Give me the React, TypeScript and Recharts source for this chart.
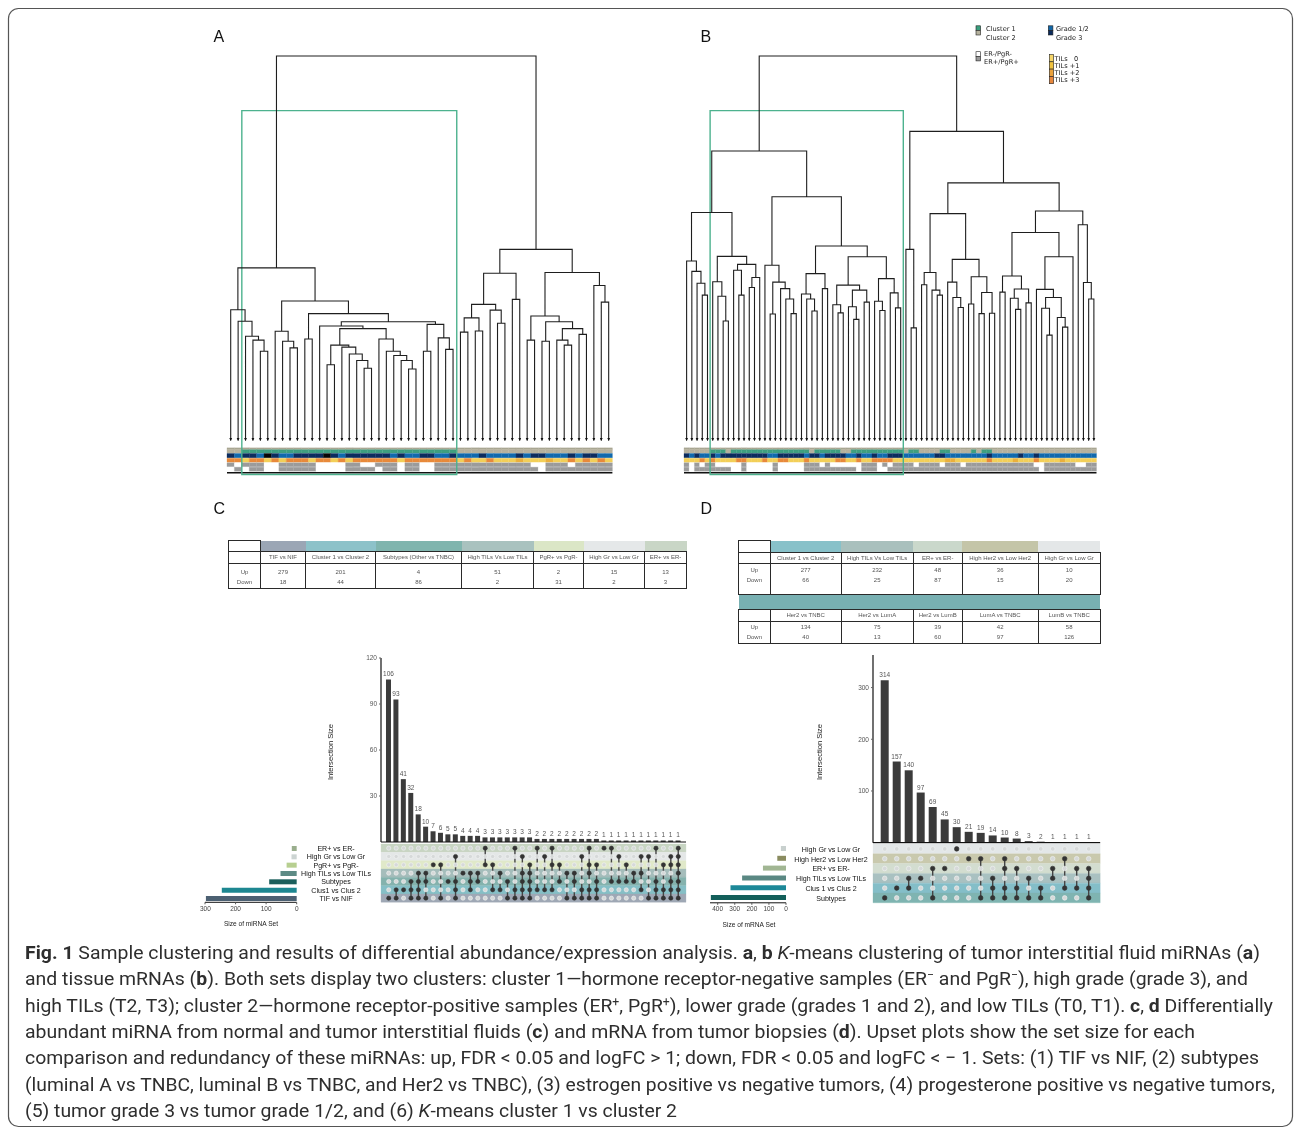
import React from "react";
import {
  ComposedChart,
  Line,
  Scatter,
  XAxis,
  YAxis,
  ReferenceArea,
  BarChart,
  Bar,
  Cell,
  LabelList,
} from "recharts";

const FONT = "'Liberation Sans', Arial, Helvetica, sans-serif";
const LEGEND_FONT = "'DejaVu Sans', Verdana, sans-serif";
const CAPTION_FONT = "'Liberation Sans Narrow', Roboto, 'Liberation Sans', sans-serif";

// ---------- dendrogram A: TIF miRNA, 52 samples (leaf = 0, node = [left, right, height]) ----------
const L = 0;
const treeA_c1 = [L, [L, [L, [L, [L, L, 23.2], 26.1], 27.1], 31.0], 34.0];
const treeA_c2a = [L, [L, [L, L, 24.1], 25.8], 28.4];
const treeA_n16 = [L, [L, [L, [L, L, 18.8], 20.8], 22.5], 24.3];
const treeA_n21 = [L, [L, [L, [L, [L, L, 18.6], 20.8], 22.1], 23.2], 26.4];
const treeA_n834 = [[[L, L, 19.7], treeA_n16, 24.8], treeA_n21, 29.1];
const treeA_n822 = [[L, L, 23.2], [L, [L, L, 23.7], 26.7], 30.2];
const treeA_c2b = [[L, L, 26.4], [[L, treeA_n834, 29.8], treeA_n822, 30.9], 33.0];
const treeA_left = [treeA_c1, [treeA_c2a, treeA_c2b, 36.3], 44.9];
const treeA_r1 = [[[[L, L, 28.2], [L, L, 28.5], 31.9], [L, [L, L, 30.5], 33.9], 35.4], [L, L, 36.7], 43.5];
const treeA_r2a = [[L, L, 26.1], [[L, L, 25.8], [[L, [L, L, 24.8], 26.1], [L, L, 27.6], 29.1], 30.9], 32.4];
const treeA_right = [treeA_r1, [treeA_r2a, [L, [L, L, 36.0], 40.3], 43.7], 49.7];
const treeA = [treeA_left, treeA_right, 100];

// ---------- dendrogram B: tissue mRNA, 79 samples ----------
const treeB_l1 = [L, [L, [L, [L, L, 37.8], 40.9], 44.0], 46.7];
const treeB_l2 = [L, [L, [L, L, 31.1], 37.5], 41.3];
const treeB_l3 = [[L, [L, L, 37.8], 44.3], [[L, L, 39.8], L, 42.4], 45.8];
const treeB_lA = [treeB_l1, [treeB_l2, treeB_l3, 47.9], 59.3];
const treeB_l5 = [L, [[L, L, 32.9], [L, [L, [L, L, 33.0], 36.8], 39.5], 41.2], 45.6];
const treeB_l6 = [[L, [L, [L, L, 33.7], 36.8], 38.1], [L, L, 39.5], 43.4];
const treeB_l7 = [
  [[L, [L, L, 33.2], 35.3], [[L, [L, L, 31.5], 34.8], [L, L, 36.0], 39.1], 40.4],
  [[L, [L, L, 33.8], 36.2], [L, [L, L, 34.5], 38.4], 42.1],
  47.8,
];
const treeB_lC = [treeB_l5, [treeB_l6, treeB_l7, 50.6], 63.4];
const treeB_r2 = [[L, L, 40.5], [L, [L, L, 37.8], 39.1], 43.7];
const treeB_r3 = [L, [L, [L, L, 34.6], 37.2], 41.2];
const treeB_r4 = [[L, L, 35.5], [[L, L, 33.0], [L, L, 33.1], 38.5], 42.6];
const treeB_r6 = [treeB_r2, [treeB_r3, treeB_r4, 47.1], 59.0];
const treeB_r7 = [[L, L, 38.6], [[L, [L, L, 34.1], 37.0], [L, L, 35.8], 39.4], 42.8];
const treeB_r8 = [L, [[L, [L, L, 27.4], 34.4], [L, [L, L, 29.5], 32.0], 37.2], 39.3];
const treeB_r10 = [treeB_r7, [treeB_r8, L, 47.8], 54.1];
const treeB_r11 = [L, [L, [L, L, 36.8], 41.1], 56.1];
const treeB_right = [[L, [L, L, 29.3], 49.7], [treeB_r6, [treeB_r10, treeB_r11, 59.7], 67.0], 80.4];
const treeB = [[treeB_lA, treeB_lC, 75.3], treeB_right, 100];

// ---------- annotation rows under the dendrograms (run-length codes) ----------
const clusterA = "b2 g29 b21";
const gradeA = "N1 B1 N2 B1 K1 N1 B2 N4 K1 N1 B1 N6 B1 N1 B2 N2 B2 N1 B3 N1 B4 N1 B1 N2 B3 N1 B1 N2 B2";
const tilsA = "O2 Y1 O2 Y1 O1 Y1 O3 Y1 O2 Y1 O1 Y1 O6 Y1 O7 Y1 O1 Y2 O1 Y3 G1 Y3 G1 Y2 O1 Y1 O1 Y1 O1 Y1";
const erA = "R1 W1 R3 W2 R5 W4 R2 W2 R3 W1 R2 W2 R13 W2 R3 W1 R5";
const pgrA = "W1 R1 W1 R2 W2 R5 W4 R4 W1 R2 W1 R2 W2 R14 W1 R9";

const clusterB = "b5 g3 b1 g15 b1 g5 b2 g10 b1 g2 b4 g2 b4 g1 b1 g2 b20";
const gradeB = "N1 B1 N1 B2 N1 B1 N9 B2 N5 B1 N2 B1 N4 B2 N1 B2 N1 B2 N3 B6 N2 B8 N1 B5 N1 B2 N1 B11";
const tilsB = "Y3 O1 Y1 O1 Y4 O2 Y3 O1 Y2 O2 Y3 O1 Y5 O2 Y2 O1 Y2 O4 Y10 G2 Y6 O1 Y4 G1 Y3 O1 Y4 G1 Y6";
const erB = "R1 W1 R1 W1 R2 W5 R1 W5 R1 W5 R3 W1 R1 W6 R3 W1 R1 W1 R4 W1 R4 W1 R3 W1 R13 W2 R6 W2 R2";
const pgrB = "R1 W1 R7 W2 R1 W5 R1 W5 R10 W1 R3 W2 R29 W1 R10";

const CELL_COLORS: Record<string, string> = {
  t: "#a9a693",
  b: "#b6b29e",
  g: "#3f9f80",
  N: "#0c2c5e",
  B: "#1169ad",
  K: "#060606",
  Y: "#f3cf58",
  G: "#ebb03c",
  O: "#e88a3b",
  W: "#ffffff",
  R: "#9b9b9b",
};

const ROW_BANDS = [
  { key: "top", y1: -1.9, y2: -2.39 },
  { key: "cluster", y1: -2.39, y2: -3.3 },
  { key: "grade", y1: -3.38, y2: -4.5 },
  { key: "tils", y1: -4.63, y2: -5.64 },
  { key: "er", y1: -5.8, y2: -6.81 },
  { key: "pgr", y1: -6.94, y2: -7.98 },
];

// ---------- tables ----------
const tableC_heads = ["TIF vs NIF", "Cluster 1 vs Cluster 2", "Subtypes (Other vs TNBC)", "High TILs Vs Low TILs", "PgR+ vs PgR-", "High Gr vs Low Gr", "ER+ vs ER-"];
const tableC_up = [279, 201, 4, 51, 2, 15, 13];
const tableC_down = [18, 44, 86, 2, 31, 2, 3];
const tableC_colors = ["#9ba6b5", "#8dc2c9", "#80b5ae", "#a9c2bf", "#dbe6c6", "#e5e8e9", "#c9d6c6"];

const tableD1_heads = ["Cluster 1 vs Cluster 2", "High TILs Vs Low TILs", "ER+ vs ER-", "High Her2 vs Low Her2", "High Gr vs Low Gr"];
const tableD1_up = [277, 232, 48, 36, 10];
const tableD1_down = [66, 25, 87, 15, 20];
const tableD1_colors = ["#88c1c9", "#a9c0bd", "#cad8cb", "#c4c5a8", "#e4e7e8"];
const tableD2_heads = ["Her2 vs TNBC", "Her2 vs LumA", "Her2 vs LumB", "LumA vs TNBC", "LumB vs TNBC"];
const tableD2_up = [134, 75, 39, 42, 58];
const tableD2_down = [40, 13, 60, 97, 126];

// ---------- upset C (miRNA) ----------
const upsetC_sets = ["ER+ vs ER-", "High Gr vs Low Gr", "PgR+ vs PgR-", "High TILs vs Low TILs", "Subtypes", "Clus1 vs Clus 2", "TIF vs NIF"];
const upsetC_setSizes = [16, 17, 33, 53, 90, 245, 297];
const upsetC_setColors = ["#9aae8d", "#ccd4d2", "#b7cf90", "#5d8b85", "#1b5f5c", "#1d8791", "#4c6072"];
const upsetC_bandColors = ["#c8d5c3", "#e4e7e7", "#e0e9c9", "#a5bdbb", "#84b2ad", "#86bfc6", "#9fa8b5"];
const upsetC_counts = [106, 93, 41, 32, 18, 10, 7, 6, 5, 5, 4, 4, 4, 3, 3, 3, 3, 3, 3, 3, 2, 2, 2, 2, 2, 2, 2, 2, 2, 1, 1, 1, 1, 1, 1, 1, 1, 1, 1, 1];
const upsetC_combos = [
  [6], [5, 6], [5], [4, 5, 6], [3, 4, 5, 6], [3, 4, 6], [2], [2, 6], [4], [1, 4, 5, 6],
  [3], [3, 4, 5], [3, 4], [0, 2], [2, 5], [3, 5], [4, 6], [0, 5, 6], [1, 3, 4, 5, 6], [2, 3, 4, 5, 6],
  [0, 5], [1, 5], [0, 2, 5], [2, 4], [3, 6], [3, 4, 6], [1, 5, 6], [0, 2, 3, 5, 6], [2, 4, 5, 6], [0],
  [0, 4], [1, 4], [2, 4], [3, 4], [1, 3, 5], [1, 6], [0, 4, 5, 6], [2, 5, 6], [1, 2, 4, 5, 6], [0, 1, 2, 3, 4, 5, 6],
];

// ---------- upset D (mRNA) ----------
const upsetD_sets = ["High Gr vs Low Gr", "High Her2 vs Low Her2", "ER+ vs ER-", "High TILs vs Low TILs", "Clus 1 vs Clus 2", "Subtypes"];
const upsetD_setSizes = [30, 51, 135, 257, 325, 440];
const upsetD_setColors = ["#c8d0ce", "#8a8c60", "#a1b693", "#5a8883", "#1d8898", "#135f5a"];
const upsetD_bandColors = ["#e3e7e8", "#c9c9ad", "#d3ddd0", "#a9c1c1", "#84bec8", "#7fb4b1"];
const upsetD_counts = [314, 157, 140, 97, 69, 45, 30, 21, 19, 14, 10, 8, 3, 2, 1, 1, 1, 1];
const upsetD_combos = [
  [5], [4], [3, 4], [3], [2, 5], [2], [0], [1], [1, 5], [3, 4, 5],
  [1, 2, 4, 5], [2, 4, 5], [3, 5], [4, 5], [2, 3], [1, 4], [2, 4], [2, 3, 4, 5],
];

const GEO_C = {
  axisLeft: 381, axisRight: 686, colStart: 388.7, colStep: 7.425, barTop: 658, barBase: 842,
  yMax: 120, yTicks: [0, 30, 60, 90, 120], barSize: 5, rowTop: 844.2, rowH: 8.33,
  setLeft: 205, setRight: 296.7, setMax: 300, setTicks: [0, 100, 200, 300],
  labelX: 336, titleX: 251, titleY: 926, ylabX: 332.5, ylabY: 752, dotR: 2.4, title: "Size of miRNA Set",
};
const GEO_D = {
  axisLeft: 873.3, axisRight: 1100.5, colStart: 885, colStep: 12, barTop: 655, barBase: 842.7,
  yMax: 363, yTicks: [0, 100, 200, 300], barSize: 8, rowTop: 844.4, rowH: 9.8,
  setLeft: 710, setRight: 786, setMax: 445, setTicks: [0, 100, 200, 300, 400],
  labelX: 831, titleX: 749, titleY: 927, ylabX: 822, ylabY: 752, dotR: 2.6, title: "Size of mRNA Set",
};

// layers with transparent background keep small text in grayscale antialiasing
const LAYER: React.CSSProperties = { position: "absolute", willChange: "transform" };

// ---------- helpers ----------
const rle = (s: string): string[] =>
  s.trim().split(/\s+/).flatMap((t) => Array(parseInt(t.slice(1), 10)).fill(t[0]));

function layoutTree(tree: any) {
  const segs: { x: number; y: number | null }[] = [];
  const leaves: { x: number; y: number }[] = [];
  let k = 0;
  const walk = (node: any): { x: number; h: number } => {
    if (node === 0) {
      const x = k++;
      leaves.push({ x, y: 0 });
      return { x, h: 0 };
    }
    const a = walk(node[0]);
    const b = walk(node[1]);
    const h = node[2];
    segs.push({ x: a.x, y: a.h }, { x: a.x, y: h }, { x: b.x, y: h }, { x: b.x, y: b.h }, { x: b.x, y: null });
    return { x: (a.x + b.x) / 2, h };
  };
  walk(tree);
  return { segs, leaves, n: k };
}

const Arrow = (props: any) => {
  const { cx, cy } = props;
  return <path d={`M${cx - 1.4},${cy - 2.6} L${cx + 1.4},${cy - 2.6} L${cx},${cy + 0.6} Z`} fill="#111" />;
};

function Dendrogram({ tree, codes, box, left, width }: any) {
  const { segs, leaves, n } = layoutTree(tree);
  const m = 6;
  const top = 55.5;
  const plotH = 475.4 - 55.5;
  const cells: any[] = [];
  ROW_BANDS.forEach((band) => {
    const seq = band.key === "top" ? Array(n).fill("t") : rle(codes[band.key]);
    seq.forEach((c: string, i: number) => {
      cells.push(
        <ReferenceArea
          key={band.key + i}
          x1={i - 0.5}
          x2={i + 0.5}
          y1={band.y1}
          y2={band.y2}
          fill={CELL_COLORS[c]}
          fillOpacity={1}
          stroke={CELL_COLORS[c]}
          strokeWidth={0.3}
        />
      );
    });
  });
  return (
    <div style={{ ...LAYER, left: left - m, top: top - m }}>
      <ComposedChart width={width + 2 * m} height={plotH + 2 * m} margin={{ top: m, right: m, bottom: m, left: m }}>
        <XAxis type="number" dataKey="x" domain={[-0.5, n - 0.5]} hide />
        <YAxis type="number" dataKey="y" domain={[-9.2, 100]} hide />
        {cells}
        <ReferenceArea x1={-0.5} x2={n - 0.5} y1={-8.22} y2={-8.56} fill="#111" fillOpacity={1} stroke="none" />
        <Line data={segs} dataKey="y" stroke="#1e1e1e" strokeWidth={1.1} dot={false} connectNulls={false} isAnimationActive={false} />
        <Scatter data={leaves} shape={Arrow} isAnimationActive={false} />
        <ReferenceArea x1={box[0]} x2={box[1]} y1={-8.84} y2={85.8} fill="none" fillOpacity={0} stroke="#4db28e" strokeWidth={1.4} />
      </ComposedChart>
    </div>
  );
}

function StatTable({ left, top, widths, blocks }: any) {
  const cell: React.CSSProperties = {
    border: "0.8px solid #2a2a2a",
    padding: 0,
    textAlign: "center",
    whiteSpace: "nowrap",
    overflow: "hidden",
    verticalAlign: "middle",
  };
  const total = widths.reduce((s: number, w: number) => s + w, 0);
  return (
    <div style={{ ...LAYER, left, top }}>
      <table
        style={{
          borderCollapse: "collapse",
          tableLayout: "fixed",
          width: total,
          fontFamily: FONT,
          fontSize: 6,
          color: "#555",
          lineHeight: "10.5px",
        }}
      >
        <colgroup>
          {widths.map((w: number, i: number) => (
            <col key={i} style={{ width: w }} />
          ))}
        </colgroup>
        <tbody>
          {blocks.map((b: any, bi: number) => (
            <React.Fragment key={bi}>
              <tr style={{ height: b.bandH }}>
                {b.band.length === 1 ? (
                  <td colSpan={widths.length} style={{ padding: 0, background: b.band[0] }} />
                ) : (
                  <>
                    <td style={{ ...cell, background: "#fff" }} />
                    {b.band.map((c: string, i: number) => (
                      <td key={i} style={{ padding: 0, background: c }} />
                    ))}
                  </>
                )}
              </tr>
              <tr style={{ height: b.headH }}>
                <td style={cell} />
                {b.heads.map((h: string, i: number) => (
                  <td key={i} style={cell}>
                    {h}
                  </td>
                ))}
              </tr>
              <tr style={{ height: b.dataH }}>
                <td style={{ ...cell, verticalAlign: "top", paddingTop: b.padTop }}>
                  Up
                  <br />
                  Down
                </td>
                {b.up.map((u: number, i: number) => (
                  <td key={i} style={{ ...cell, verticalAlign: "top", paddingTop: b.padTop }}>
                    {u}
                    <br />
                    {b.down[i]}
                  </td>
                ))}
              </tr>
            </React.Fragment>
          ))}
        </tbody>
      </table>
    </div>
  );
}

function UpsetBars({ counts, g }: any) {
  const data = counts.map((v: number, i: number) => ({ i, v }));
  const yW = 22;
  const mT = 8;
  const mR = 2;
  const plotW = g.axisRight - g.axisLeft;
  const padL = g.colStart - g.colStep / 2 - g.axisLeft;
  const padR = g.axisRight - (g.colStart + g.colStep * (counts.length - 0.5));
  return (
    <div style={{ ...LAYER, left: g.axisLeft - yW, top: g.barTop - mT }}>
      <BarChart
        width={yW + plotW + mR}
        height={mT + (g.barBase - g.barTop) + 2}
        data={data}
        margin={{ top: mT, right: mR, bottom: 0, left: 0 }}
        barCategoryGap={0}
      >
        <XAxis
          dataKey="i"
          type="category"
          tick={false}
          tickLine={false}
          height={2}
          axisLine={{ stroke: "#111", strokeWidth: 1.2 }}
          padding={{ left: padL, right: padR }}
        />
        <YAxis
          type="number"
          domain={[0, g.yMax]}
          ticks={g.yTicks}
          width={yW}
          tickSize={2}
          tick={{ fontSize: 6.5, fill: "#555", fontFamily: FONT }}
          tickLine={{ stroke: "#666" }}
          axisLine={{ stroke: "#111", strokeWidth: 1.2 }}
        />
        <Bar dataKey="v" fill="#3b3b3b" barSize={g.barSize} isAnimationActive={false}>
          <LabelList dataKey="v" position="top" offset={3} style={{ fontSize: 6.5, fill: "#555", fontFamily: FONT }} />
        </Bar>
      </BarChart>
    </div>
  );
}

const Dot = (fill: string, stroke: string, r: number) => (props: any) =>
  <circle cx={props.cx} cy={props.cy} r={r} fill={fill} stroke={stroke} strokeWidth={0.6} />;

function UpsetMatrix({ combos, bands, g }: any) {
  const m = 3;
  const nRows = bands.length;
  const x0 = (g.axisLeft - g.colStart) / g.colStep;
  const x1 = (g.axisRight - g.colStart) / g.colStep;
  const filled: any[] = [];
  const empty: any[] = [];
  const segs: any[] = [];
  combos.forEach((c: number[], i: number) => {
    for (let r = 0; r < nRows; r++) (c.includes(r) ? filled : empty).push({ x: i, y: r });
    if (c.length > 1) segs.push({ x: i, y: Math.min(...c) }, { x: i, y: Math.max(...c) }, { x: i, y: null });
  });
  return (
    <div style={{ ...LAYER, left: g.axisLeft - m, top: g.rowTop - m }}>
      <ComposedChart
        width={g.axisRight - g.axisLeft + 2 * m}
        height={nRows * g.rowH + 2 * m}
        margin={{ top: m, right: m, bottom: m, left: m }}
      >
        <XAxis type="number" dataKey="x" domain={[x0, x1]} hide />
        <YAxis type="number" dataKey="y" domain={[-0.5, nRows - 0.5]} reversed hide />
        {bands.map((c: string, r: number) => (
          <ReferenceArea key={r} x1={x0} x2={x1} y1={r - 0.5} y2={r + 0.5} fill={c} fillOpacity={1} stroke={c} strokeWidth={0.3} />
        ))}
        <Scatter data={empty} shape={Dot("#d6d9d9", "#f1f3f3", g.dotR - 0.3)} isAnimationActive={false} />
        <Line data={segs} dataKey="y" stroke="#454545" strokeWidth={1.4} dot={false} connectNulls={false} isAnimationActive={false} />
        <Scatter data={filled} shape={Dot("#333", "#333", g.dotR - 0.3)} isAnimationActive={false} />
      </ComposedChart>
    </div>
  );
}

function SetSizes({ sizes, colors, g }: any) {
  const data = sizes.map((v: number, i: number) => ({ i, v }));
  const mX = 5;
  const plotH = sizes.length * g.rowH;
  return (
    <div style={{ ...LAYER, left: g.setLeft - mX, top: g.rowTop }}>
      <BarChart
        layout="vertical"
        width={g.setRight - g.setLeft + 2 * mX}
        height={plotH + 14}
        data={data}
        margin={{ top: 0, right: mX, bottom: 0, left: mX }}
        barCategoryGap={0}
      >
        <XAxis
          type="number"
          domain={[0, g.setMax]}
          ticks={g.setTicks}
          reversed
          height={14}
          tickSize={2}
          tick={{ fontSize: 6.5, fill: "#444", fontFamily: FONT }}
          tickLine={{ stroke: "#555" }}
          axisLine={{ stroke: "#111", strokeWidth: 1 }}
        />
        <YAxis type="category" dataKey="i" hide />
        <Bar dataKey="v" barSize={5} isAnimationActive={false}>
          {data.map((d: any, i: number) => (
            <Cell key={i} fill={colors[i]} />
          ))}
        </Bar>
      </BarChart>
    </div>
  );
}

function UpsetText({ sets, g }: any) {
  return (
    <g fontFamily={FONT}>
      {sets.map((s: string, r: number) => (
        <text key={s} x={g.labelX} y={g.rowTop + (r + 0.5) * g.rowH + 2.5} fontSize={7.1} fill="#111" textAnchor="middle">
          {s}
        </text>
      ))}
      <text
        x={g.ylabX}
        y={g.ylabY}
        fontSize={7.6}
        fill="#222"
        textAnchor="middle"
        transform={`rotate(-90 ${g.ylabX} ${g.ylabY})`}
      >
        Intersection Size
      </text>
      <text x={g.titleX} y={g.titleY} fontSize={6.6} fill="#222" textAnchor="middle">
        {g.title}
      </text>
    </g>
  );
}

const sup = (ch: string) => [
  <tspan key="s" dy={-6} fontSize={12}>
    {ch}
  </tspan>,
];

export default function App() {
  return (
    <div style={{ position: "relative", width: 1295, height: 1130, overflow: "hidden" }}>
      <style>{"body{margin:0;background:#fff}"}</style>
      <svg width={1295} height={1130} style={{ ...LAYER, left: 0, top: 0 }}>
        <rect x={8.5} y={8.5} width={1284} height={1118} rx={10} fill="none" stroke="#555" strokeWidth={1.2} />

        <g fontFamily={FONT} fontSize={16} fill="#111">
          <text x={213.5} y={42}>A</text>
          <text x={700.5} y={42}>B</text>
          <text x={213.5} y={514}>C</text>
          <text x={700.5} y={514}>D</text>
        </g>

        <g fontFamily={LEGEND_FONT} fontSize={6.6} fill="#222">
          <rect x={976} y={25.8} width={4.6} height={4.6} fill="#3a9e7e" stroke="#222" strokeWidth={0.6} />
          <rect x={976} y={30.4} width={4.6} height={4.6} fill="#b6b29e" stroke="#222" strokeWidth={0.6} />
          <text x={986} y={30.6}>Cluster 1</text>
          <text x={986} y={39.8}>Cluster 2</text>
          <rect x={1048.3} y={25.8} width={4.6} height={4.6} fill="#1066a8" stroke="#222" strokeWidth={0.6} />
          <rect x={1048.3} y={30.4} width={4.6} height={4.6} fill="#0b2a5c" stroke="#222" strokeWidth={0.6} />
          <text x={1056} y={30.6}>Grade 1/2</text>
          <text x={1056} y={39.8}>Grade 3</text>
          <rect x={976} y={51.7} width={4.6} height={4.6} fill="#ffffff" stroke="#222" strokeWidth={0.6} />
          <rect x={976} y={56.3} width={4.6} height={4.6} fill="#9a9a9a" stroke="#222" strokeWidth={0.6} />
          <text x={984} y={56.4}>ER-/PgR-</text>
          <text x={984} y={63.8}>ER+/PgR+</text>
          {["#f6d66a", "#f0c23e", "#eba13a", "#e8873c"].map((c, i) => (
            <rect key={c} x={1049.3} y={54.5 + i * 7.3} width={4.3} height={7.3} fill={c} stroke="#222" strokeWidth={0.6} />
          ))}
          {["TILs\u00a0\u00a0\u00a00", "TILs +1", "TILs +2", "TILs +3"].map((t, i) => (
            <text key={t} x={1054.6} y={60.5 + i * 7.3}>
              {t}
            </text>
          ))}
        </g>

        <UpsetText sets={upsetC_sets} g={GEO_C} />
        <UpsetText sets={upsetD_sets} g={GEO_D} />

        <g fontFamily={CAPTION_FONT} fontSize={19} fill="#2e2e2e">
          <text x={25} y={959} textLength={1235} lengthAdjust="spacingAndGlyphs">
            <tspan fontWeight="bold">Fig. 1</tspan> Sample clustering and results of differential abundance/expression analysis. <tspan fontWeight="bold">a</tspan>, <tspan fontWeight="bold">b</tspan> <tspan fontStyle="italic">K</tspan>-means clustering of tumor interstitial fluid miRNAs (<tspan fontWeight="bold">a</tspan>)
          </text>
          <text x={25} y={985.3} textLength={1223} lengthAdjust="spacingAndGlyphs">
            and tissue mRNAs (<tspan fontWeight="bold">b</tspan>). Both sets display two clusters: cluster 1—hormone receptor-negative samples (ER{sup("−")}<tspan dy={6}> and PgR</tspan>{sup("−")}<tspan dy={6}>), high grade (grade 3), and</tspan>
          </text>
          <text x={25} y={1011.6} textLength={1248} lengthAdjust="spacingAndGlyphs">
            high TILs (T2, T3); cluster 2—hormone receptor-positive samples (ER{sup("+")}<tspan dy={6}>, PgR</tspan>{sup("+")}<tspan dy={6}>), lower grade (grades 1 and 2), and low TILs (T0, T1). </tspan><tspan fontWeight="bold">c</tspan>, <tspan fontWeight="bold">d</tspan> Differentially
          </text>
          <text x={25} y={1037.9} textLength={1170} lengthAdjust="spacingAndGlyphs">
            abundant miRNA from normal and tumor interstitial fluids (<tspan fontWeight="bold">c</tspan>) and mRNA from tumor biopsies (<tspan fontWeight="bold">d</tspan>). Upset plots show the set size for each
          </text>
          <text x={25} y={1064.2} textLength={1234} lengthAdjust="spacingAndGlyphs">
            comparison and redundancy of these miRNAs: up, FDR &lt; 0.05 and logFC &gt; 1; down, FDR &lt; 0.05 and logFC &lt; − 1. Sets: (1) TIF vs NIF, (2) subtypes
          </text>
          <text x={25} y={1090.5} textLength={1250} lengthAdjust="spacingAndGlyphs">
            (luminal A vs TNBC, luminal B vs TNBC, and Her2 vs TNBC), (3) estrogen positive vs negative tumors, (4) progesterone positive vs negative tumors,
          </text>
          <text x={25} y={1116.8} textLength={652} lengthAdjust="spacingAndGlyphs">
            (5) tumor grade 3 vs tumor grade 1/2, and (6) <tspan fontStyle="italic">K</tspan>-means cluster 1 vs cluster 2
          </text>
        </g>
      </svg>

      <Dendrogram
        tree={treeA}
        codes={{ cluster: clusterA, grade: gradeA, tils: tilsA, er: erA, pgr: pgrA }}
        box={[1.5, 30.5]}
        left={227.3}
        width={385.4}
      />
      <Dendrogram
        tree={treeB}
        codes={{ cluster: clusterB, grade: gradeB, tils: tilsB, er: erB, pgr: pgrB }}
        box={[4.5, 41.5]}
        left={684.1}
        width={412.5}
      />

      <StatTable
        left={228}
        top={540}
        widths={[32, 45, 70, 86, 72, 50, 61, 42]}
        blocks={[
          { band: tableC_colors, bandH: 11, headH: 9, dataH: 25, padTop: 3, heads: tableC_heads, up: tableC_up, down: tableC_down },
        ]}
      />
      <StatTable
        left={738.3}
        top={540}
        widths={[31.7, 71, 72, 49, 76, 62]}
        blocks={[
          { band: tableD1_colors, bandH: 11.7, headH: 11.3, dataH: 31, padTop: 0.5, heads: tableD1_heads, up: tableD1_up, down: tableD1_down },
          { band: ["#78b0b2"], bandH: 15, headH: 11, dataH: 22, padTop: 0, heads: tableD2_heads, up: tableD2_up, down: tableD2_down },
        ]}
      />

      <UpsetBars counts={upsetC_counts} g={GEO_C} />
      <UpsetMatrix combos={upsetC_combos} bands={upsetC_bandColors} g={GEO_C} />
      <SetSizes sizes={upsetC_setSizes} colors={upsetC_setColors} g={GEO_C} />

      <UpsetBars counts={upsetD_counts} g={GEO_D} />
      <UpsetMatrix combos={upsetD_combos} bands={upsetD_bandColors} g={GEO_D} />
      <SetSizes sizes={upsetD_setSizes} colors={upsetD_setColors} g={GEO_D} />
    </div>
  );
}
